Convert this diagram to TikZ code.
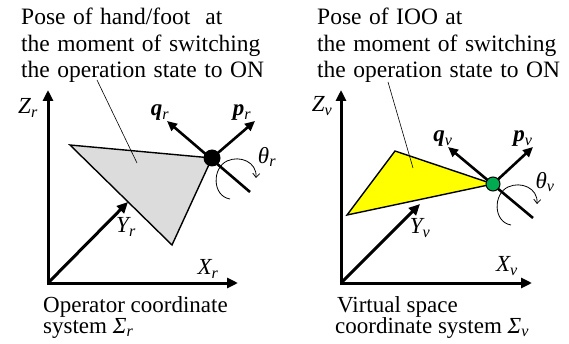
\documentclass[tikz,border=0pt]{standalone}
\usepackage{fontspec}
\setmainfont{Liberation Serif}
\usetikzlibrary{arrows.meta}
\newcommand\vlab[2]{{\itshape #1}\textsubscript{\itshape #2}}
\newcommand\blab[2]{{\bfseries\itshape #1}\textsubscript{\itshape #2}}
\newcommand\topfnt{\fontsize{23.5}{26}\selectfont\spaceskip=0.32em plus 0.1em\relax}
\definecolor{triGray}{RGB}{220,220,220}
\definecolor{triYellow}{RGB}{255,255,0}
\definecolor{dotGreen}{RGB}{0,170,80}
\begin{document}
\begin{tikzpicture}[x=1pt,y=-1pt,font=\fontsize{23}{26}\selectfont,
  axisline/.style={line width=3pt,line join=miter},
  axtip/.tip={Triangle[length=11pt,width=10pt]},
  vectip/.tip={Triangle[length=10pt,width=9pt]},
  axisarrow/.style={axisline,-axtip},
  vecline/.style={line width=2.6pt},
  tri/.style={line width=1.4pt,line join=miter},
  leader/.style={line width=0.6pt},
  rotarrow/.style={line width=0.8pt,-{Straight Barb[length=4pt,width=7pt]}},
  txt/.style={anchor=base west,inner sep=0pt},
  toptxt/.style={txt,font=\topfnt},
  lab/.style={inner sep=0pt},
  dotblack/.style={circle,fill=black,minimum size=17pt,inner sep=0pt},
  dotgreen/.style={circle,draw=black,line width=1pt,fill=dotGreen,minimum size=14pt,inner sep=0pt}]
\useasboundingbox (0,0) rectangle (569,344);

% ---------------- left panel ----------------
\coordinate (oL) at (48,283);
\coordinate (zL) at (48,90);
\coordinate (xL) at (238,283);
\coordinate (yL) at (128,202);
\coordinate (tLa) at (70,145);
\coordinate (tLb) at (212,158);
\coordinate (tLc) at (172,245);
\coordinate (pL) at (255,121);
\coordinate (qL) at (167,121);
\coordinate (qLtail) at (250,192);
\coordinate (ldLs) at (97,80);
\coordinate (ldLe) at (137,163);

\draw[tri,fill=triGray] (tLa) -- (tLb) -- (tLc) -- cycle;
\draw[leader] (ldLs) -- (ldLe);
\draw[axisline,axtip-axtip] (zL) -- (oL) -- (xL);
\draw[axisarrow] (oL) -- (yL);
\draw[vecline,-vectip] (qLtail) -- (qL);
\draw[vecline,-vectip] (tLb) -- (pL);
\node[dotblack] (dL) at (tLb) {};
\draw[rotarrow,shift={(tLb)}] (18,41) .. controls (0,38) and (0,10) .. (15,3)
   .. controls (28,-3) and (45,4) .. (44,20);

\node[lab] (ZrL) at (28,108) {\vlab{Z}{r}};
\node[lab] (XrL) at (208,269) {\vlab{X}{r}};
\node[lab] (YrL) at (126,227) {\vlab{Y}{r}};
\node[lab] (qrL) at (160,113) {\blab{q}{r}};
\node[lab] (prL) at (242,113) {\blab{p}{r}};
\node[lab] (thL) at (267,157) {\vlab{θ}{r}};

\node[toptxt] (tl1) at (21,25) {Pose of hand/foot\ \ at};
\node[toptxt] (tl2) at (21,52) {the moment of switching};
\node[toptxt] (tl3) at (21,78) {the operation state to ON};
\node[txt] (bl1) at (43,312) {Operator coordinate};
\node[txt] (bl2) at (43,333) {system \vlab{Σ}{r}};

% ---------------- right panel ----------------
\coordinate (oR) at (341,283);
\coordinate (zR) at (341,90);
\coordinate (xR) at (532,283);
\coordinate (yR) at (420,204);
\coordinate (tRa) at (347,215);
\coordinate (tRb) at (395,151);
\coordinate (tRc) at (493,184);
\coordinate (pR) at (533,147);
\coordinate (qR) at (448,147);
\coordinate (qRtail) at (533,218);
\coordinate (ldRs) at (388,82);
\coordinate (ldRe) at (413,168);

\draw[tri,fill=triYellow] (tRa) -- (tRb) -- (tRc) -- cycle;
\draw[leader] (ldRs) -- (ldRe);
\draw[axisline,axtip-axtip] (zR) -- (oR) -- (xR);
\draw[axisarrow] (oR) -- (yR);
\draw[vecline,-vectip] (qRtail) -- (qR);
\draw[vecline,-vectip] (tRc) -- (pR);
\node[dotgreen] (dR) at (tRc) {};
\draw[rotarrow,shift={(tRc)}] (18,41) .. controls (0,38) and (0,10) .. (15,3)
   .. controls (28,-3) and (45,4) .. (44,20);

\node[lab] (ZvR) at (322,106) {\vlab{Z}{v}};
\node[lab] (XvR) at (507,266) {\vlab{X}{v}};
\node[lab] (YvR) at (420,228) {\vlab{Y}{v}};
\node[lab] (qvR) at (443,139) {\blab{q}{v}};
\node[lab] (pvR) at (523,139) {\blab{p}{v}};
\node[lab] (thR) at (545,182) {\vlab{θ}{v}};

\node[toptxt] (tr1) at (317,25) {Pose of IOO at};
\node[toptxt] (tr2) at (317,52) {the moment of switching};
\node[toptxt] (tr3) at (317,78) {the operation state to ON};
\node[txt] (br1) at (337,312) {Virtual space};
\node[txt] (br2) at (335,333) {coordinate system \vlab{Σ}{v}};
\end{tikzpicture}
\end{document}
